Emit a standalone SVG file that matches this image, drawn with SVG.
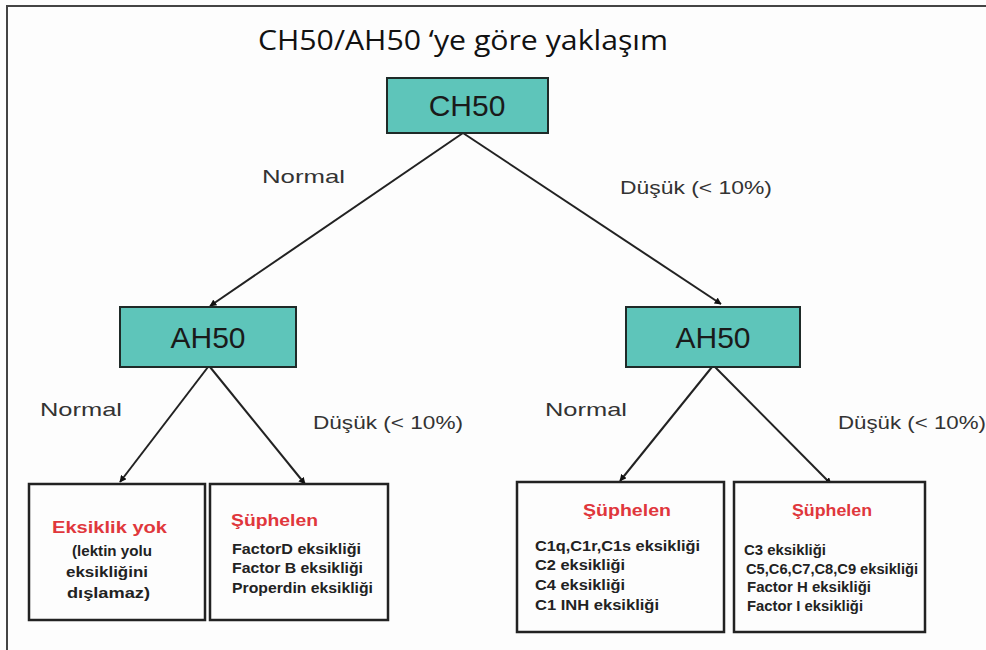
<svg xmlns="http://www.w3.org/2000/svg" width="986" height="650" viewBox="0 0 986 650">
<defs>
<style>
.teal{fill:#5ec5ba;stroke:#1f2a28;stroke-width:2}
.box{fill:#fdfdfd;stroke:#222;stroke-width:2.5}
.tl{font-family:"Liberation Sans",Arial,sans-serif;font-size:30px;fill:#1a1a1a;text-anchor:middle}
.lbl{font-family:"Liberation Sans",Arial,sans-serif;font-size:19px;fill:#333}
.red{font-family:"Liberation Sans",Arial,sans-serif;font-size:17px;font-weight:bold;fill:#e0373c}
.item{font-family:"Liberation Sans",Arial,sans-serif;font-size:14.5px;font-weight:bold;fill:#222}
.conn{stroke:#222;stroke-width:2;fill:none;marker-end:url(#ah)}
</style>
<marker id="ah" viewBox="0 0 10 10" refX="9" refY="5" markerWidth="7" markerHeight="7" orient="auto" markerUnits="userSpaceOnUse">
<path d="M0,0 L10,5 L0,10 z" fill="#111"/>
</marker>
</defs>
<rect x="0" y="0" width="986" height="650" fill="#fdfdfd"/>
<path d="M7,650 V6 H986" fill="none" stroke="#444" stroke-width="2"/>
<text x="258" y="50" font-family="'Open Sans','Liberation Sans',sans-serif" font-size="27" fill="#111" textLength="410" lengthAdjust="spacingAndGlyphs">CH50/AH50 ‘ye göre yaklaşım</text>
<g id="connectors">
<line class="conn" x1="463" y1="133" x2="210" y2="306"/>
<line class="conn" x1="463" y1="133" x2="721" y2="304"/>
<line class="conn" x1="208" y1="367" x2="120" y2="482"/>
<line class="conn" x1="210" y1="367" x2="305" y2="484"/>
<line class="conn" x1="712" y1="367" x2="620" y2="481"/>
<line class="conn" x1="715" y1="367" x2="831" y2="484"/>
</g>
<g id="labels">
<text class="lbl" x="262" y="183" textLength="83" lengthAdjust="spacingAndGlyphs">Normal</text>
<text class="lbl" x="620" y="194" textLength="152" lengthAdjust="spacingAndGlyphs">Düşük (&lt; 10%)</text>
<text class="lbl" x="40" y="416" textLength="82" lengthAdjust="spacingAndGlyphs">Normal</text>
<text class="lbl" x="313" y="429" textLength="150" lengthAdjust="spacingAndGlyphs">Düşük (&lt; 10%)</text>
<text class="lbl" x="545" y="416" textLength="82" lengthAdjust="spacingAndGlyphs">Normal</text>
<text class="lbl" x="838" y="429" textLength="148" lengthAdjust="spacingAndGlyphs">Düşük (&lt; 10%)</text>
</g>
<g id="ch50">
<rect class="teal" x="387" y="78" width="161" height="55"/>
<text class="tl" x="467" y="116">CH50</text>
</g>
<g id="ah50-left">
<rect class="teal" x="120" y="307" width="176" height="60"/>
<text class="tl" x="208" y="348">AH50</text>
</g>
<g id="ah50-right">
<rect class="teal" x="626" y="307" width="174" height="60"/>
<text class="tl" x="713" y="348">AH50</text>
</g>
<g id="box1">
<rect class="box" x="29" y="484" width="176" height="136"/>
<text class="red" x="52" y="533" font-size="18" textLength="115" lengthAdjust="spacingAndGlyphs">Eksiklik yok</text>
<text class="item" x="72" y="556" font-size="15.5" textLength="80" lengthAdjust="spacingAndGlyphs">(lektin yolu</text>
<text class="item" x="66" y="577" font-size="15.5" textLength="82" lengthAdjust="spacingAndGlyphs">eksikliğini</text>
<text class="item" x="67" y="598" font-size="15.5" textLength="83" lengthAdjust="spacingAndGlyphs">dışlamaz)</text>
</g>
<g id="box2">
<rect class="box" x="210" y="484" width="178" height="136"/>
<text class="red" x="231" y="526" textLength="87" lengthAdjust="spacingAndGlyphs">Şüphelen</text>
<text class="item" x="232" y="554" textLength="129" lengthAdjust="spacingAndGlyphs">FactorD eksikliği</text>
<text class="item" x="232" y="573" textLength="131" lengthAdjust="spacingAndGlyphs">Factor B eksikliği</text>
<text class="item" x="232" y="593" textLength="141" lengthAdjust="spacingAndGlyphs">Properdin eksikliği</text>
</g>
<g id="box3">
<rect class="box" x="517" y="482" width="207" height="150"/>
<text class="red" x="583" y="516" textLength="88" lengthAdjust="spacingAndGlyphs">Şüphelen</text>
<text class="item" x="535" y="551" textLength="165" lengthAdjust="spacingAndGlyphs">C1q,C1r,C1s eksikliği</text>
<text class="item" x="535" y="570" textLength="90" lengthAdjust="spacingAndGlyphs">C2 eksikliği</text>
<text class="item" x="535" y="590" textLength="90" lengthAdjust="spacingAndGlyphs">C4 eksikliği</text>
<text class="item" x="535" y="610" textLength="124" lengthAdjust="spacingAndGlyphs">C1 INH eksikliği</text>
</g>
<g id="box4">
<rect class="box" x="734" y="482" width="191" height="150"/>
<text class="red" x="792" y="516" textLength="80" lengthAdjust="spacingAndGlyphs">Şüphelen</text>
<text class="item" x="744" y="555" font-size="13.5" textLength="82" lengthAdjust="spacingAndGlyphs">C3 eksikliği</text>
<text class="item" x="746" y="574" font-size="13.5" textLength="172" lengthAdjust="spacingAndGlyphs">C5,C6,C7,C8,C9 eksikliği</text>
<text class="item" x="747" y="592" font-size="13.5" textLength="124" lengthAdjust="spacingAndGlyphs">Factor H eksikliği</text>
<text class="item" x="747" y="611" font-size="13.5" textLength="116" lengthAdjust="spacingAndGlyphs">Factor I eksikliği</text>
</g>
</svg>
